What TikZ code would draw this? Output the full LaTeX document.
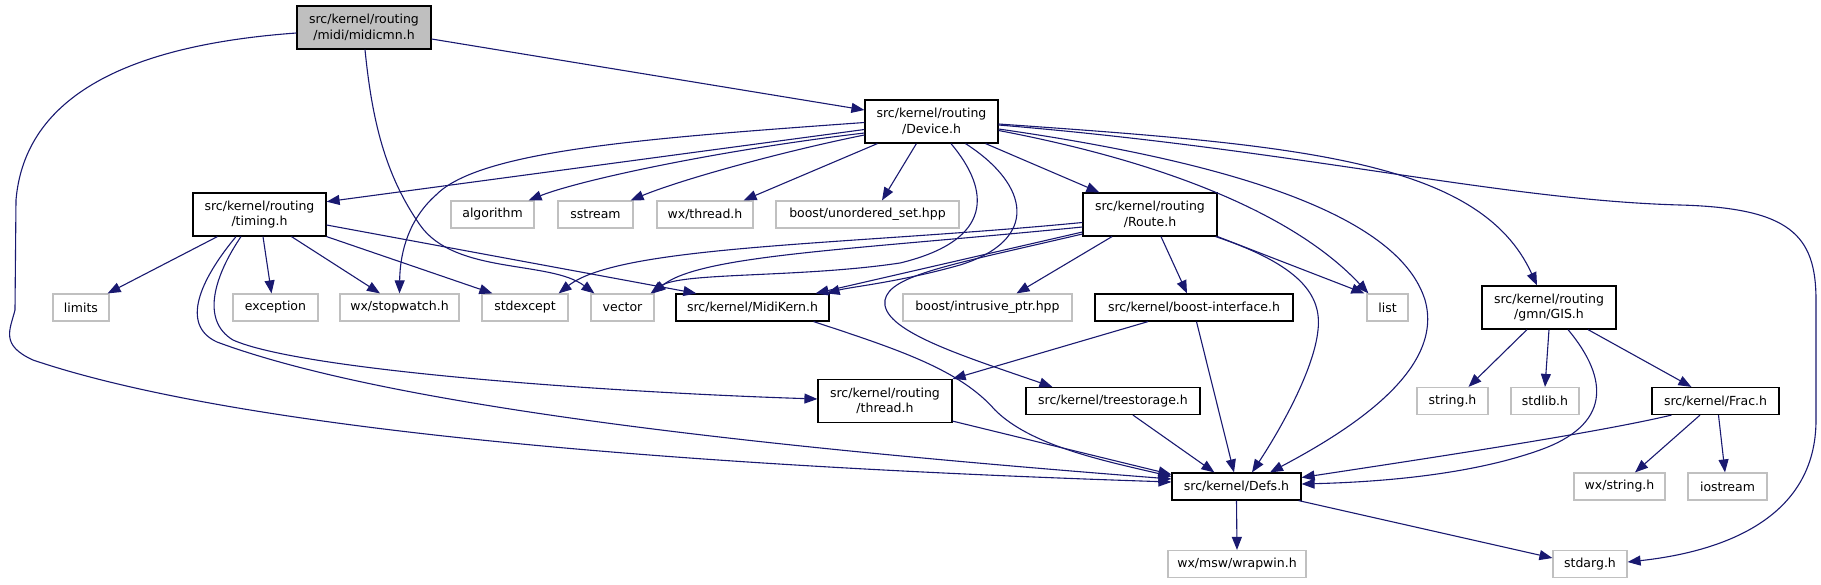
\documentclass[tikz,border=0pt]{standalone}
\usepackage{fontspec}
\setmainfont{DejaVu Sans}
\usetikzlibrary{arrows.meta}
\definecolor{edgec}{HTML}{191970}
\definecolor{greyfill}{HTML}{BFBFBF}
\definecolor{greyline}{HTML}{C0C0C0}
\tikzset{
  base/.style={inner sep=0pt, align=center, font=\fontsize{12.5pt}{15.5pt}\selectfont, fill=white},
  hdr/.style={base, draw=black, line width=1.2pt},
  sys/.style={base, draw=greyline, line width=1.2pt},
  two/.style={minimum height=43pt},
  one/.style={minimum height=27pt},
  dep/.style={draw=edgec, line width=1.1pt, -{Triangle[length=13pt,width=10pt]}},
}
\begin{document}
\begin{tikzpicture}[x=1pt,y=-1pt]
\useasboundingbox (0,0) rectangle (1821,584);
% row 0
\node[hdr, two, fill=greyfill, minimum width=134pt] (midicmn) at (364,27.5) {src/kernel/routing\\/midi/midicmn.h};
% row 1
\node[hdr, two, minimum width=133pt] (device) at (931.5,121.5) {src/kernel/routing\\/Device.h};
% row 2
\node[hdr, two, minimum width=133pt] (timing) at (259.5,214.5) {src/kernel/routing\\/timing.h};
\node[sys, one, minimum width=83pt] (algorithm) at (492.5,214.5) {algorithm};
\node[sys, one, minimum width=75pt] (sstream) at (595.5,214.5) {sstream};
\node[sys, one, minimum width=96pt] (wxthread) at (705,214.5) {wx/thread.h};
\node[sys, one, minimum width=183pt] (unordered) at (867.5,214.5) {boost/unordered\_set.hpp};
\node[hdr, two, minimum width=134pt] (route) at (1150,214.5) {src/kernel/routing\\/Route.h};
% row 3
\node[sys, one, minimum width=56pt] (limits) at (81,307.5) {limits};
\node[sys, one, minimum width=85pt] (exception) at (275.5,307.5) {exception};
\node[sys, one, minimum width=119pt] (stopwatch) at (399.5,307.5) {wx/stopwatch.h};
\node[sys, one, minimum width=86pt] (stdexcept) at (525,307.5) {stdexcept};
\node[sys, one, minimum width=63pt] (vector) at (622.5,307.5) {vector};
\node[hdr, one, minimum width=153pt] (midikern) at (752.5,307.5) {src/kernel/MidiKern.h};
\node[sys, one, minimum width=169pt] (intrusive) at (987.5,307.5) {boost/intrusive\_ptr.hpp};
\node[hdr, one, minimum width=198pt] (boostif) at (1194,307.5) {src/kernel/boost-interface.h};
\node[sys, one, minimum width=41pt] (list) at (1387.5,307.5) {list};
\node[hdr, two, minimum width=134pt] (gis) at (1549,307.5) {src/kernel/routing\\/gmn/GIS.h};
% row 4
\node[hdr, two, minimum width=134pt] (thread) at (885,401) {src/kernel/routing\\/thread.h};
\node[hdr, one, minimum width=174pt] (treestorage) at (1113,401) {src/kernel/treestorage.h};
\node[sys, one, minimum width=71pt] (stringh) at (1452.5,401) {string.h};
\node[sys, one, minimum width=68pt] (stdlib) at (1545,401) {stdlib.h};
\node[hdr, one, minimum width=127pt] (frac) at (1715.5,401) {src/kernel/Frac.h};
% row 5
\node[hdr, one, minimum width=129pt] (defs) at (1236.5,486.5) {src/kernel/Defs.h};
\node[sys, one, minimum width=91pt] (wxstring) at (1619.5,486.5) {wx/string.h};
\node[sys, one, minimum width=79pt] (iostream) at (1727.5,486.5) {iostream};
% row 6
\node[sys, one, minimum width=138pt] (wrapwin) at (1237,564) {wx/msw/wrapwin.h};
\node[sys, one, minimum width=74pt] (stdarg) at (1590,564) {stdarg.h};

% midicmn
\draw[dep] ([yshift=-11.5pt]midicmn.east) -- ([yshift=11.5pt]device.west);
\draw[dep] ([xshift=1pt]midicmn.south) .. controls (372,120) and (385,175) .. (420,225) .. controls (455,275) and (550,260) .. ([xshift=4pt]vector.north west);
\draw[dep] ([yshift=-5.5pt]midicmn.west) .. controls (130,45) and (25,95) .. (16,200) -- (15,310) .. controls (10,330) and (0,345) .. (33,360) .. controls (180,410) and (500,460) .. ([yshift=4.5pt]defs.west);

% Device
\draw[dep] ([yshift=-1pt]device.west) .. controls (650,138) and (480,150) .. (436,195) .. controls (410,218) and (400,250) .. (stopwatch.north);
\draw[dep] ([yshift=-8pt]device.west) -- ([yshift=12.8pt]timing.east);
\draw[dep] ([yshift=-11.5pt]device.west) .. controls (720,150) and (580,180) .. ([xshift=-6pt]algorithm.north east);
\draw[dep] ([yshift=-13.5pt]device.west) .. controls (780,152) and (680,180) .. ([xshift=-3pt]sstream.north east);
\draw[dep] ([xshift=13pt]device.south west) -- ([xshift=-10pt]wxthread.north east);
\draw[dep] ([xshift=52pt]device.south west) -- ([xshift=14.5pt]unordered.north);
\draw[dep] ([xshift=19.5pt]device.south) .. controls (990,190) and (995,240) .. (900,263) .. controls (800,278) and (680,272) .. ([xshift=-4pt]vector.north east);
\draw[dep] ([xshift=34pt]device.south) .. controls (1030,185) and (1040,240) .. (960,265) .. controls (900,282) and (850,287) .. ([xshift=-3pt]midikern.north east);
\draw[dep] ([xshift=-13pt]device.south east) -- ([xshift=17pt]route.north west);
\draw[dep] ([yshift=-9pt]device.east) .. controls (1180,165) and (1300,220) .. ([xshift=2pt]list.north west);
\draw[dep] ([yshift=-7.5pt]device.east) .. controls (1250,165) and (1400,220) .. (1425,300) .. controls (1445,370) and (1350,430) .. ([xshift=33.5pt]defs.north);
\draw[dep] ([yshift=-2.5pt]device.east) .. controls (1300,145) and (1480,160) .. ([xshift=-12pt]gis.north);
\draw[dep] ([yshift=-3.5pt]device.east) .. controls (1300,150) and (1500,200) .. (1680,205) .. controls (1790,208) and (1816,235) .. (1816,300) -- (1816,420) .. controls (1816,520) and (1720,552) .. ([yshift=2pt]stdarg.east);

% Route
\draw[dep] ([yshift=-8pt]route.west) .. controls (850,245) and (620,245) .. ([xshift=-10pt]stdexcept.north east);
\draw[dep] ([yshift=-12.5pt]route.west) .. controls (850,250) and (700,255) .. ([xshift=-2pt]vector.north east);
\draw[dep] ([yshift=-17.5pt]route.west) -- ([xshift=-14pt]midikern.north east);
\draw[dep] ([yshift=-19.5pt]route.west) .. controls (950,265) and (890,275) .. (885,300) .. controls (880,330) and (960,355) .. ([xshift=27pt]treestorage.north west);
\draw[dep] ([xshift=-38pt]route.south) -- ([xshift=29pt]intrusive.north);
\draw[dep] ([xshift=11pt]route.south) -- ([xshift=-7pt]boostif.north);
\draw[dep] (route.south east) -- ([xshift=-2pt]list.north west);
\draw[dep] ([xshift=-2pt]route.south east) .. controls (1300,265) and (1322,295) .. (1318,330) .. controls (1314,370) and (1280,430) .. ([xshift=15.5pt]defs.north);

% timing
\draw[dep] ([xshift=25pt]timing.south west) -- ([xshift=-2pt]limits.north east);
\draw[dep] ([xshift=3.5pt]timing.south) -- ([xshift=-4pt]exception.north);
\draw[dep] ([xshift=32pt]timing.south) -- ([xshift=-19.5pt]stopwatch.north);
\draw[dep] (timing.south east) -- ([xshift=11pt]stdexcept.north west);
\draw[dep] ([yshift=-10.5pt]timing.east) -- ([xshift=21pt]midikern.north west);
\draw[dep] ([xshift=-18.5pt]timing.south) .. controls (215,275) and (200,320) .. (233,340) .. controls (300,370) and (600,392) .. ([yshift=2pt]thread.west);
\draw[dep] ([xshift=-23.5pt]timing.south) .. controls (200,280) and (180,325) .. (217,342) .. controls (400,410) and (800,450) .. ([yshift=7.5pt]defs.west);

% lower part
\draw[dep] ([xshift=-46pt]boostif.south) -- (thread.north east);
\draw[dep] ([xshift=2.5pt]boostif.south) -- ([xshift=-2.5pt]defs.north);
\draw[dep] ([xshift=20pt]treestorage.south) -- ([xshift=43pt]defs.north west);
\draw[dep] ([yshift=2pt]thread.south east) -- ([yshift=12pt]defs.west);
\draw[dep] ([xshift=-16pt]midikern.south east) .. controls (900,350) and (960,370) .. (995,410) .. controls (1030,445) and (1100,460) .. ([yshift=10pt]defs.west);
\draw[dep] ([xshift=-22pt]gis.south) -- ([xshift=16pt]stringh.north);
\draw[dep] (gis.south) -- (stdlib.north);
\draw[dep] ([xshift=19pt]gis.south) .. controls (1610,380) and (1610,425) .. (1540,450) .. controls (1470,475) and (1380,482) .. ([yshift=2.5pt]defs.east);
\draw[dep] ([xshift=39pt]gis.south) -- ([xshift=40pt]frac.north west);
\draw[dep] ([xshift=20pt]frac.south west) .. controls (1600,432) and (1450,455) .. ([yshift=9pt]defs.east);
\draw[dep] ([xshift=-15.5pt]frac.south) -- ([xshift=15.5pt]wxstring.north);
\draw[dep] ([xshift=3pt]frac.south) -- ([xshift=-2.5pt]iostream.north);
\draw[dep] (defs.south) -- (wrapwin.north);
\draw[dep] ([xshift=-3pt]defs.south east) -- ([yshift=6pt]stdarg.west);
\end{tikzpicture}
\end{document}
